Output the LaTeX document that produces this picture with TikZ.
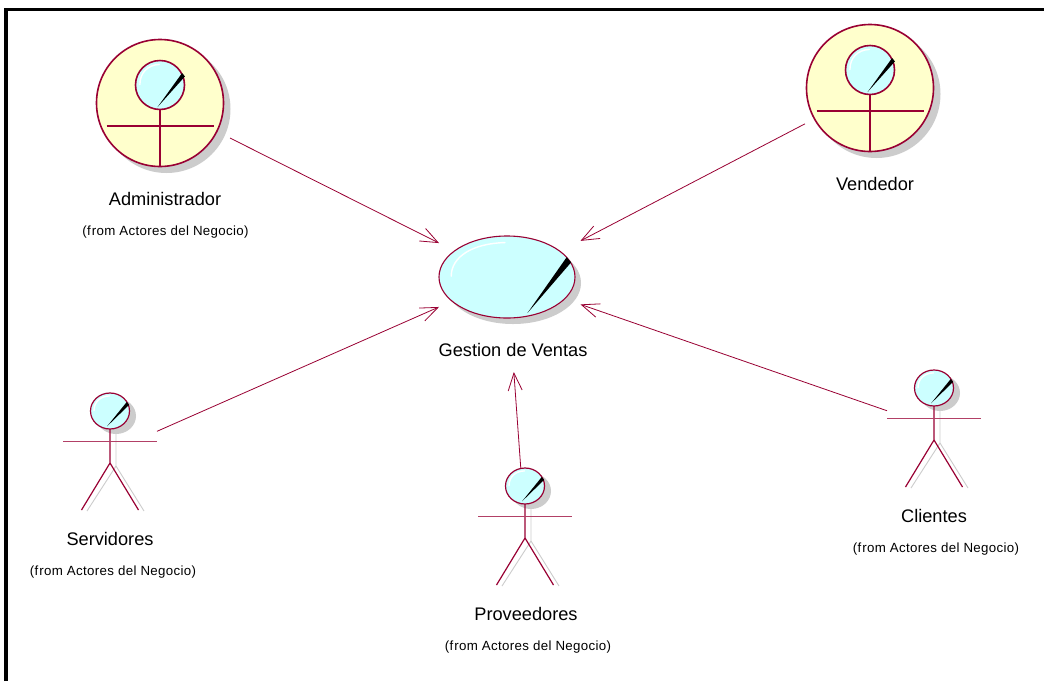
\documentclass[tikz,border=0pt]{standalone}
\usepackage{fontspec}
\setmainfont{Liberation Sans}
\usetikzlibrary{arrows.meta}
\definecolor{rosered}{RGB}{153,0,51}
\definecolor{headblue}{RGB}{204,255,255}
\definecolor{actoryellow}{RGB}{255,255,204}
\definecolor{shadowgrey}{RGB}{204,204,204}
\tikzset{
  x=1pt,y=-1pt,
  outline/.style={draw=rosered,line width=1.2pt},
  thickoutline/.style={draw=rosered,line width=1.6pt},
  box/.style={rectangle,inner sep=0pt,outer sep=0pt,minimum width=#1},
  namelabel/.style={font=\fontsize{18.2}{20}\selectfont,inner sep=0pt},
  fromlabel/.style={font=\fontsize{13.3}{15}\selectfont\addfontfeature{LetterSpace=2.5},inner sep=0pt},
  assoc/.style={draw=rosered,line width=0.8pt,-{Straight Barb[length=17.5pt,width=14pt,line width=0.8pt]}},
}
\newcommand{\glassy}[6]{%
  \foreach \tx/\ty/\ex/\ey in {#6}{
    \fill[black] ({#1+\tx*#3},{#2+\ty*#4}) -- ({#1+\ex*#3-#5*0.55},{#2+\ey*#4-#5*0.65}) -- ({#1+\ex*#3+#5*0.55},{#2+\ey*#4+#5*0.65}) -- cycle;
  }
  \draw[white,line width=1.4pt,line cap=round] ({#1-.82*#3},{#2-.02*#4}) .. controls ({#1-.82*#3},{#2-.5*#4}) and ({#1-.5*#3},{#2-.82*#4}) .. ({#1-.03*#3},{#2-.84*#4});
}
\newcommand{\bigactor}[2]{%
  \fill[shadowgrey] ({#1+6.5},{#2+6}) circle[radius=64];
  \filldraw[fill=actoryellow,thickoutline] (#1,#2) circle[radius=63.5];
  \filldraw[fill=headblue,thickoutline] (#1,{#2-18}) circle[radius=24.5];
  \glassy{#1}{#2-18}{24.5}{24.5}{2.6}{-.1/.9/.96/-.42}
  \draw[thickoutline] (#1,{#2+6.5}) -- (#1,{#2+63.5});
  \draw[thickoutline] ({#1-53.5},{#2+23}) -- ({#1+53.5},{#2+23});
}
\newcommand{\smallactor}[2]{%
  \fill[shadowgrey] ({#1+6},{#2+5}) ellipse[x radius=20,y radius=18];
  \draw[shadowgrey,line width=0.9pt] ({#1+6},{#2+18}) -- ({#1+6},{#2+55}) -- ({#1-23},{#2+100});
  \draw[shadowgrey,line width=0.9pt] ({#1+6},{#2+55}) -- ({#1+34},{#2+100});
  \filldraw[fill=headblue,outline] (#1,#2) ellipse[x radius=19.5,y radius=18];
  \glassy{#1}{#2}{19.5}{18}{2.2}{-.15/.85/.92/-.42}
  \draw[outline] (#1,{#2+18}) -- (#1,{#2+52}) -- ({#1-28.5},{#2+99});
  \draw[outline] (#1,{#2+52}) -- ({#1+28.5},{#2+99});
  \draw[rosered!75,line width=1.3pt] ({#1-47},{#2+30.3}) -- ({#1+47},{#2+30.3});
}
\begin{document}
\begin{tikzpicture}
\useasboundingbox (0,0) rectangle (1044,681);
\fill[white] (0,0) rectangle (1044,681);
\draw[black,line width=3.8pt] (6,681) -- (6,9.5) -- (1044,9.5);

% shapes
\bigactor{160}{103}
\bigactor{870}{88}
\fill[shadowgrey] (513,283) ellipse[x radius=68,y radius=41];
\filldraw[fill=headblue,draw=rosered,line width=1.1pt] (507,277) ellipse[x radius=68,y radius=41];
\glassy{507}{277}{68}{41}{4}{.3/.88/.91/-.42}
\smallactor{110}{411}
\smallactor{525}{486}
\smallactor{934}{388}

% invisible extents the connectors attach to
\node[box=140pt,minimum height=140pt] (admin) at (160,103) {};
\node[box=130pt,minimum height=130pt] (vendedor) at (870,90) {};
\node[box=136pt,minimum height=190pt] (gestion) at (507,277) {};
\node[box=147pt,minimum height=190pt] (gestionright) at (507,279) {};
\node[box=94pt,minimum height=118pt] (servidores) at (110,452) {};
\node[box=94pt,minimum height=118pt] (proveedores) at (525,527) {};
\node[box=94pt,minimum height=118pt] (clientes) at (934,427) {};

% connectors
\draw[assoc] (admin) -- (gestion);
\draw[assoc] (vendedor) -- (gestionright);
\draw[assoc] (servidores) -- (gestion);
\draw[assoc] (proveedores) -- (gestion);
\draw[assoc] (clientes) -- (gestionright);

% labels
\newcommand{\fromtxt}{(f\kern1pt rom Actores del Negocio)}
\node[namelabel] (tadmin) at (165,198.5) {Administrador};
\node[fromlabel] (fadmin) at (165.5,232.5) {\fromtxt};
\node[namelabel] (tvend) at (875,183.5) {Vendedor};
\node[namelabel] (tgest) at (513,350) {Gestion de Ventas};
\node[namelabel] (tserv) at (110,539) {Servidores};
\node[fromlabel] (fserv) at (113,572.5) {\fromtxt};
\node[namelabel] (tprov) at (526,614) {Proveedores};
\node[fromlabel] (fprov) at (528,647.5) {\fromtxt};
\node[namelabel] (tcli) at (934,516) {Clientes};
\node[fromlabel] (fcli) at (936,549.5) {\fromtxt};
\end{tikzpicture}
\end{document}
